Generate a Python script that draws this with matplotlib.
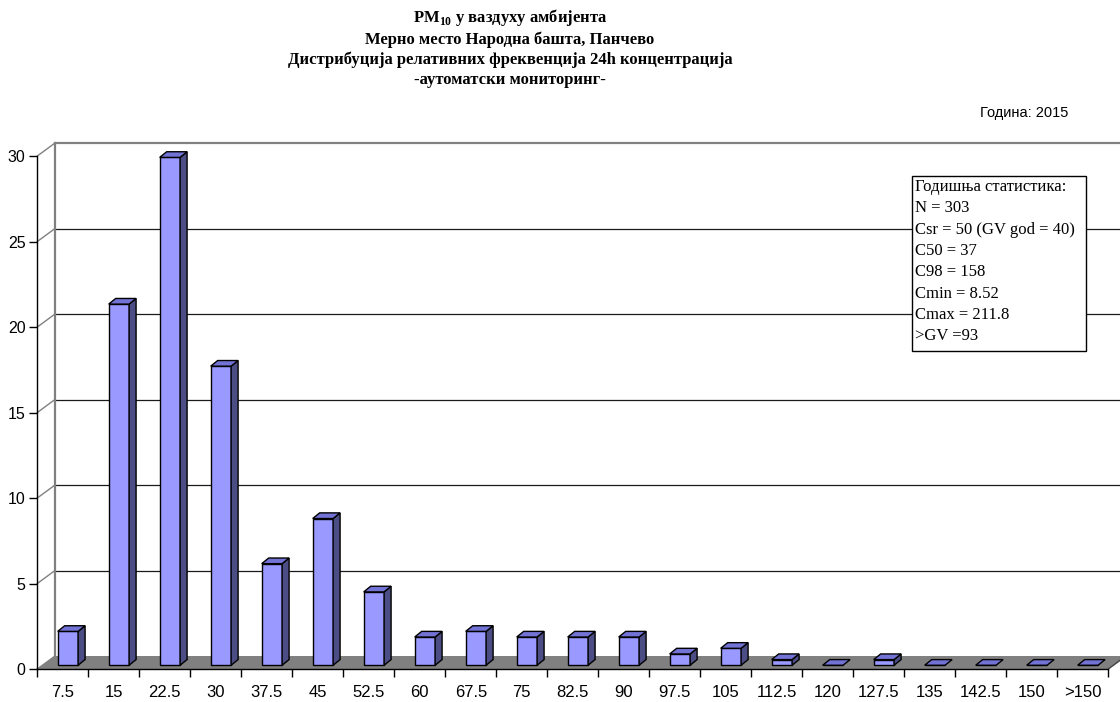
import matplotlib
matplotlib.use("Agg")
import matplotlib.pyplot as plt
from matplotlib.patches import Polygon, Rectangle
import numpy as np

# relative frequency (%) of 24h PM10 concentrations per class
CLASSES = ["7.5", "15", "22.5", "30", "37.5", "45", "52.5", "60", "67.5", "75",
           "82.5", "90", "97.5", "105", "112.5", "120", "127.5", "135", "142.5",
           "150", ">150"]
SHARE = [1.98, 21.12, 29.70, 17.49, 5.94, 8.58, 4.29, 1.65, 1.98, 1.65,
         1.65, 1.65, 0.66, 0.99, 0.33, 0.0, 0.33, 0.0, 0.0, 0.0, 0.0]
Y_TICKS = [0, 5, 10, 15, 20, 25, 30]

TITLE_LINES = [
    r"PM$_{\mathbf{10}}$ у ваздуху амбијента",
    "Мерно место Народна башта, Панчево",
    "Дистрибуција релативних фреквенција 24h концентрација",
    "-аутоматски мониторинг-",
]
YEAR_TEXT = "Година: 2015"
STATS = [
    "Годишња статистика:",
    "N = 303",
    "Csr = 50 (GV god = 40)",
    "C50 = 37",
    "C98 = 158",
    "Cmin = 8.52",
    "Cmax = 211.8",
    ">GV =93",
]

W, H = 1120, 702
SERIF = ["Liberation Serif", "DejaVu Serif"]
SANS = ["Liberation Sans", "DejaVu Sans"]

FRONT = "#9999ff"
TOP = "#7373d6"
SIDE = "#4d4d85"
FLOOR = "#808080"
WALL = "#808080"

# oblique depth of the plot box, in (category, percent) units
WALL_DX, WALL_DY = 0.347, 0.76
# bars sit a little behind the front edge and have their own depth
BAR_X0, BAR_Y0 = 0.10, 0.22
BAR_DX, BAR_DY = 0.137, 0.33
BAR_W = 0.40

plt.rcParams.update({
    "font.family": SANS,
    "mathtext.fontset": "custom",
    "mathtext.rm": "Liberation Serif",
    "mathtext.bf": "Liberation Serif:bold",
})


def px(x, y):
    return x / W, 1 - y / H


fig = plt.figure(figsize=(W / 100, H / 100), dpi=100)
fig.patch.set_facecolor("white")

x0_px, y0_px, ytop_px = 37.3, 669, 142
ax = fig.add_axes([x0_px / W, (H - y0_px) / H, (W - x0_px) / W, (y0_px - ytop_px) / H])
n = len(CLASSES)
xmax = n + (W - x0_px - n * 51) / 51
ax.set_xlim(0, xmax)
ax.set_ylim(0, 30 + WALL_DY + 0.06)
ax.set_facecolor("none")

# floor
ax.add_patch(Polygon([(0, 0), (n, 0), (n + WALL_DX, WALL_DY), (WALL_DX, WALL_DY)],
                     closed=True, facecolor=FLOOR, edgecolor="none", zorder=1))
ax.plot([n, n + WALL_DX], [0, WALL_DY], color="#404040", lw=1.0, zorder=1,
        clip_on=False)

# back wall: gridlines, frame and the slanted side ticks
for v in Y_TICKS[1:-1]:
    ax.plot([WALL_DX, xmax + 1], [v + WALL_DY] * 2, color="#1a1a1a", lw=0.9,
            zorder=1)
ax.plot([WALL_DX, xmax + 1], [Y_TICKS[-1] + WALL_DY] * 2, color=WALL, lw=1.6,
        zorder=1, clip_on=False)
ax.plot([WALL_DX, WALL_DX], [WALL_DY, Y_TICKS[-1] + WALL_DY], color=WALL, lw=1.6,
        zorder=1, clip_on=False)
for v in Y_TICKS:
    ax.plot([0, WALL_DX], [v, v + WALL_DY], color=WALL, lw=1.0, zorder=1,
            clip_on=False)

# bars: front faces through ax.bar, then side and top faces
xs = np.arange(n) + 0.5 + BAR_X0
ax.bar(xs, SHARE, width=BAR_W, bottom=BAR_Y0, color=FRONT, edgecolor="black",
       linewidth=1.0, zorder=3)
for xc, v in zip(xs, SHARE):
    xl, xr = xc - BAR_W / 2, xc + BAR_W / 2
    b, t = BAR_Y0, BAR_Y0 + v
    if v > 0:
        ax.add_patch(Polygon([(xr, b), (xr + BAR_DX, b + BAR_DY),
                              (xr + BAR_DX, t + BAR_DY), (xr, t)], closed=True,
                             facecolor=SIDE, edgecolor="black", lw=1.0, zorder=3))
    ax.add_patch(Polygon([(xl, t), (xr, t), (xr + BAR_DX, t + BAR_DY),
                          (xl + BAR_DX, t + BAR_DY)], closed=True,
                         facecolor=TOP, edgecolor="black", lw=1.0, zorder=3))

# axes
for s in ("top", "right"):
    ax.spines[s].set_visible(False)
ax.spines["left"].set_bounds(0, 30)
ax.spines["bottom"].set_bounds(0, n)
for s in ("left", "bottom"):
    ax.spines[s].set_color("black")
    ax.spines[s].set_linewidth(1.0)
    ax.spines[s].set_zorder(4)

ax.set_yticks(Y_TICKS)
ax.set_yticklabels([str(v) for v in Y_TICKS])
ax.tick_params(axis="y", direction="out", length=6, width=1.0, pad=2.5,
               labelsize=11.5, colors="black")
ax.set_xticks(np.arange(n + 1))
ax.set_xticklabels([])
ax.set_xticks(np.arange(n) + 0.5, minor=True)
ax.set_xticklabels(CLASSES, minor=True)
ax.tick_params(axis="x", which="major", direction="out", length=5.5, width=1.0)
ax.tick_params(axis="x", which="minor", length=0, pad=11.5, labelsize=12)

# titles
for i, line in enumerate(TITLE_LINES):
    fig.text(*px(510, [17, 40, 60, 80][i]), line, ha="center", va="center",
             fontsize=12, fontweight="bold", family=SERIF)
fig.text(*px(1068, 113), YEAR_TEXT, ha="right", va="center", fontsize=10.5,
         family=SANS)

# annual statistics box
bx0, by0, bx1, by1 = 912, 176, 1086, 351
fig.add_artist(Rectangle(px(bx0, by1), (bx1 - bx0) / W, (by1 - by0) / H,
                         transform=fig.transFigure, facecolor="white",
                         edgecolor="black", lw=1.0, zorder=5))
for i, line in enumerate(STATS):
    fig.text(*px(915, 187 + 21.3 * i), line, ha="left", va="center",
             fontsize=12, family=SERIF, zorder=6)

fig.savefig("out.png", dpi=100)
